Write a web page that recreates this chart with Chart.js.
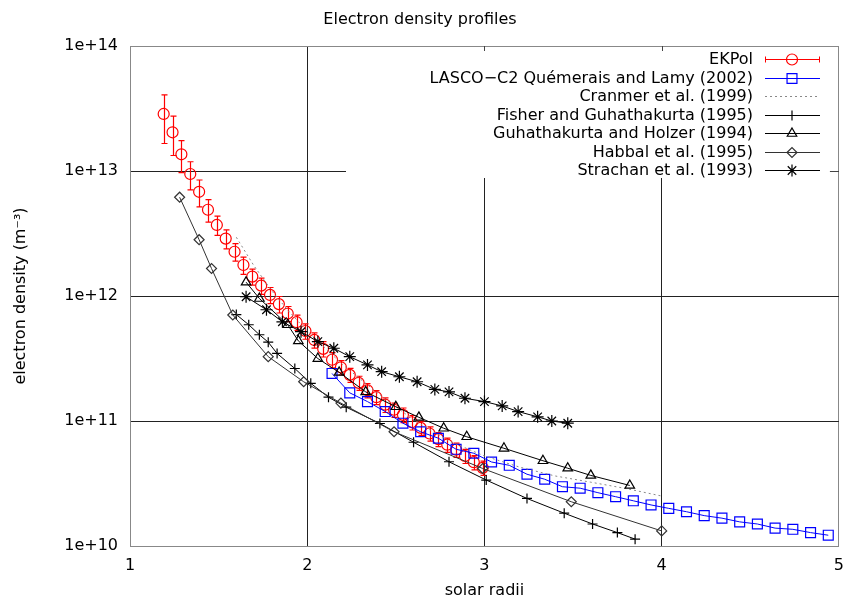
<!DOCTYPE html>
<html>
<head>
<meta charset="utf-8">
<title>Electron density profiles</title>
<script src="https://cdn.jsdelivr.net/npm/chart.js@4.4.1/dist/chart.umd.min.js"></script>
<style>
  html, body { margin: 0; padding: 0; background: #fff; }
  #chart { display: block; }
</style>
</head>
<body>
<canvas id="chart" width="854" height="600"></canvas>
<script>
// values: x = solar radii, y = electron density (m^-3)
const titleText = "Electron density profiles";
const xTicks = [1, 2, 3, 4, 5];
const yTicks = [1e10, 1e11, 1e12, 1e13, 1e14];

const legendLabels = [
  "EKPol",
  "LASCO\u2212C2 Qu\u00e9merais and Lamy (2002)",
  "Cranmer et al. (1999)",
  "Fisher and Guhathakurta (1995)",
  "Guhathakurta and Holzer (1994)",
  "Habbal et al. (1995)",
  "Strachan et al. (1993)"
];

const ekpolX = [1.19, 1.24, 1.29, 1.34, 1.39, 1.44, 1.49, 1.54, 1.59, 1.64, 1.69, 1.74, 1.79,
  1.84, 1.89, 1.94, 1.99, 2.04, 2.09, 2.14, 2.19, 2.24, 2.29, 2.34, 2.39, 2.44, 2.49, 2.54,
  2.59, 2.64, 2.69, 2.74, 2.79, 2.84, 2.89, 2.94, 2.99];
const ekpolY = [2.86e13, 2.04e13, 1.36e13, 9.46e12, 6.82e12, 4.90e12, 3.70e12, 2.88e12, 2.26e12,
  1.77e12, 1.43e12, 1.21e12, 1.02e12, 8.61e11, 7.24e11, 6.17e11, 5.25e11, 4.45e11, 3.78e11,
  3.09e11, 2.69e11, 2.34e11, 2.02e11, 1.76e11, 1.55e11, 1.35e11, 1.23e11, 1.12e11, 9.77e10,
  8.81e10, 7.94e10, 7.16e10, 6.46e10, 5.89e10, 5.25e10, 4.68e10, 4.22e10];
const ekpolErr = [1.2e13, 7.1e12, 3.9e12, 2.4e12, 1.65e12, 1.0e12, 6.5e11, 5.0e11, 3.6e11,
  2.8e11, 2.1e11, 1.8e11, 1.5e11, 1.3e11, 1.0e11, 8.6e10, 7.4e10, 6.2e10, 5.3e10, 4.3e10,
  3.5e10, 3.0e10, 2.6e10, 2.3e10, 2.0e10, 1.8e10, 1.6e10, 1.5e10, 1.3e10, 1.15e10, 1.03e10,
  9.3e9, 8.4e9, 7.7e9, 6.8e9, 6.1e9, 5.5e9];

const lascoX = [2.14, 2.24, 2.34, 2.44, 2.54, 2.64, 2.74, 2.84, 2.94, 3.04, 3.14, 3.24, 3.34,
  3.44, 3.54, 3.64, 3.74, 3.84, 3.94, 4.04, 4.14, 4.24, 4.34, 4.44, 4.54, 4.64, 4.74, 4.84, 4.94];
const lascoY = [2.40e11, 1.68e11, 1.43e11, 1.19e11, 9.6e10, 8.2e10, 7.28e10, 5.94e10, 5.52e10,
  4.70e10, 4.42e10, 3.75e10, 3.42e10, 2.98e10, 2.90e10, 2.67e10, 2.48e10, 2.30e10, 2.13e10,
  2.00e10, 1.88e10, 1.75e10, 1.67e10, 1.56e10, 1.50e10, 1.39e10, 1.36e10, 1.28e10, 1.22e10];

const cranmerX = [1.6, 1.7, 1.8, 1.9, 2.0, 2.2, 2.4, 2.6, 2.8, 3.0, 3.2, 3.4, 3.6, 3.8, 4.0];
const cranmerY = [2.95e12, 1.74e12, 1.10e12, 7.41e11, 5.25e11, 2.82e11, 1.66e11, 1.02e11,
  6.92e10, 5.25e10, 4.27e10, 3.63e10, 3.24e10, 2.88e10, 2.51e10];

const fisherX = [1.60, 1.67, 1.73, 1.78, 1.83, 1.93, 2.02, 2.12, 2.22, 2.41, 2.60, 2.80, 3.01,
  3.24, 3.45, 3.61, 3.75, 3.85];
const fisherY = [7.1e11, 5.89e11, 4.90e11, 4.27e11, 3.47e11, 2.63e11, 2.0e11, 1.55e11, 1.29e11,
  9.55e10, 6.76e10, 4.72e10, 3.37e10, 2.40e10, 1.83e10, 1.50e10, 1.28e10, 1.135e10];

const holzerX = [1.655, 1.73, 1.89, 1.95, 2.06, 2.18, 2.33, 2.50, 2.63, 2.77, 2.90, 3.11, 3.33,
  3.47, 3.60, 3.82];
const holzerY = [1.29e12, 9.55e11, 5.89e11, 4.37e11, 3.16e11, 2.45e11, 1.71e11, 1.30e11, 1.07e11,
  8.75e10, 7.48e10, 6.05e10, 4.81e10, 4.19e10, 3.67e10, 3.05e10];

const habbalX = [1.28, 1.39, 1.46, 1.58, 1.78, 1.98, 2.19, 2.49, 2.99, 3.49, 4.0];
const habbalY = [6.17e12, 2.82e12, 1.66e12, 7.05e11, 3.27e11, 2.06e11, 1.39e11, 8.2e10, 4.17e10,
  2.26e10, 1.32e10];

const strachanX = [1.655, 1.77, 1.86, 1.965, 2.06, 2.15, 2.24, 2.34, 2.42, 2.52, 2.62, 2.72,
  2.80, 2.89, 3.00, 3.10, 3.19, 3.30, 3.38, 3.47];
const strachanY = [9.86e11, 7.76e11, 6.22e11, 5.18e11, 4.31e11, 3.82e11, 3.27e11, 2.81e11,
  2.48e11, 2.26e11, 2.06e11, 1.79e11, 1.71e11, 1.52e11, 1.43e11, 1.32e11, 1.19e11, 1.08e11,
  1.00e11, 9.6e10];

const FONT = "DejaVu Sans";
const RED = "#ff0000";
const BLUE = "#0000ff";
const NONE = "rgba(0,0,0,0)";

function pts(xs, ys) {
  return xs.map((x, i) => ({ x: x, y: ys[i] }));
}

Chart.defaults.font.family = FONT;
Chart.defaults.font.size = 16;
Chart.defaults.color = "#000";

// white box behind the key (gnuplot cuts the grid there), plus the small border tics
const keyBoxPlugin = {
  id: "keyBox",
  beforeDatasetsDraw(chart) {
    const { ctx, chartArea: a, scales } = chart;
    const boxLeft = 346, boxBottom = 178;
    ctx.save();
    ctx.fillStyle = "#fff";
    ctx.fillRect(boxLeft, a.top + 1, a.right - 1 - boxLeft, boxBottom - a.top - 1);
    ctx.strokeStyle = "#444";
    ctx.lineWidth = 1;
    ctx.beginPath();
    xTicks.forEach((v) => {
      const px = Math.round(scales.x.getPixelForValue(v)) + 0.5;
      if (px > boxLeft && px < a.right - 1) {
        ctx.moveTo(px, a.top);
        ctx.lineTo(px, a.top + 5);
      }
    });
    yTicks.forEach((v) => {
      const py = Math.round(scales.y.getPixelForValue(v)) + 0.5;
      if (py > a.top + 1 && py < boxBottom) {
        ctx.moveTo(a.right - 9, py);
        ctx.lineTo(a.right, py);
      }
    });
    ctx.stroke();
    ctx.restore();
  }
};

// vertical error bars for EKPol
const errorBarPlugin = {
  id: "errorBars",
  afterDatasetDraw(chart, args) {
    if (args.index !== 0) return;
    const { ctx, scales: { x, y } } = chart;
    ctx.save();
    ctx.strokeStyle = RED;
    ctx.lineWidth = 1.2;
    ctx.beginPath();
    ekpolX.forEach((v, i) => {
      const px = Math.round(x.getPixelForValue(v)) + 0.5;
      const top = y.getPixelForValue(ekpolY[i] + ekpolErr[i]);
      const bot = y.getPixelForValue(ekpolY[i] - ekpolErr[i]);
      ctx.moveTo(px, top); ctx.lineTo(px, bot);
      ctx.moveTo(px - 3, top); ctx.lineTo(px + 3, top);
      ctx.moveTo(px - 3, bot); ctx.lineTo(px + 3, bot);
    });
    ctx.stroke();
    ctx.restore();
  }
};

// gnuplot-like key: right aligned text, sample line with the marker on the right
const keyPlugin = {
  id: "gnuplotKey",
  afterDraw(chart) {
    const ctx = chart.ctx;
    const textRight = 753, lineL = 765, lineR = 820, mark = 792;
    ctx.save();
    ctx.font = "16px '" + FONT + "'";
    ctx.textAlign = "right";
    ctx.textBaseline = "middle";
    chart.data.datasets.forEach((ds, i) => {
      const y = Math.round(59 + i * 18.5) + 0.5;
      ctx.fillStyle = "#000";
      ctx.fillText(ds.label, textRight, y);
      ctx.strokeStyle = ds.borderColor;
      ctx.lineWidth = 1;
      ctx.setLineDash(ds.borderDash || []);
      ctx.beginPath();
      ctx.moveTo(lineL, y);
      ctx.lineTo(lineR, y);
      if (i === 0) {
        ctx.moveTo(lineL + 0.5, y - 3); ctx.lineTo(lineL + 0.5, y + 3);
        ctx.moveTo(lineR - 0.5, y - 3); ctx.lineTo(lineR - 0.5, y + 3);
      }
      ctx.stroke();
      ctx.setLineDash([]);
      if (ds.pointRadius > 0) {
        ctx.fillStyle = NONE;
        ctx.strokeStyle = ds.pointBorderColor;
        ctx.lineWidth = ds.pointBorderWidth;
        Chart.helpers.drawPoint(ctx, {
          pointStyle: ds.pointStyle, radius: ds.pointRadius, rotation: 0,
          borderWidth: ds.pointBorderWidth
        }, mark, y);
      }
    });
    ctx.restore();
  }
};

function gridColor(ctx) {
  const v = ctx.tick && ctx.tick.value;
  return (v === 1 || v === 5 || v === 1e10 || v === 1e14) ? "#888" : "#222";
}

function series(label, xs, ys, color, style, radius, extra) {
  return Object.assign({
    label: label,
    data: pts(xs, ys),
    showLine: true,
    borderColor: color,
    borderWidth: 1,
    tension: 0,
    pointStyle: style,
    pointRadius: radius,
    pointBorderColor: color,
    pointBackgroundColor: NONE,
    pointBorderWidth: 1.2
  }, extra || {});
}

new Chart(document.getElementById("chart"), {
  type: "scatter",
  data: {
    datasets: [
      series(legendLabels[0], ekpolX, ekpolY, RED, "circle", 5.5, { showLine: false, order: 7 }),
      series(legendLabels[1], lascoX, lascoY, BLUE, "rect", 7, { order: 6 }),
      series(legendLabels[2], cranmerX, cranmerY, "#888", false, 0, { borderDash: [2, 3], order: 5 }),
      series(legendLabels[3], fisherX, fisherY, "#000", "cross", 5, { order: 4 }),
      series(legendLabels[4], holzerX, holzerY, "#000", "triangle", 5.5, { order: 3 }),
      series(legendLabels[5], habbalX, habbalY, "#333", "rectRot", 5, { order: 2 }),
      series(legendLabels[6], strachanX, strachanY, "#000", "star", 6, { order: 1 })
    ]
  },
  options: {
    responsive: false,
    animation: false,
    events: [],
    layout: { padding: { left: 0, right: 14, top: 0, bottom: 0 } },
    plugins: {
      legend: { display: false },
      tooltip: { enabled: false },
      title: {
        display: true,
        text: titleText,
        color: "#000",
        font: { family: FONT, size: 16, weight: "normal" },
        padding: { top: 10, bottom: 16.8 }
      }
    },
    scales: {
      x: {
        type: "linear",
        min: 1,
        max: 5,
        afterFit: (s) => { s.height = 54; },
        afterBuildTicks: (s) => { s.ticks = xTicks.map((v) => ({ value: v })); },
        ticks: { color: "#000", padding: 10, callback: (v) => String(v) },
        grid: { color: gridColor, lineWidth: 1, drawTicks: false },
        border: { color: "#888", width: 1 },
        title: { display: true, text: "solar radii", color: "#000", padding: { top: 0, bottom: 0 } }
      },
      y: {
        type: "logarithmic",
        min: 1e10,
        max: 1e14,
        afterFit: (s) => { s.width = 130; },
        afterBuildTicks: (s) => { s.ticks = yTicks.map((v) => ({ value: v })); },
        ticks: { color: "#000", padding: 12, callback: (v) => "1e+" + Math.round(Math.log10(v)) },
        grid: { color: gridColor, lineWidth: 1, drawTicks: false },
        border: { color: "#888", width: 1 },
        title: { display: true, text: "electron density (m\u207b\u00b3)", color: "#000", padding: { top: 11, bottom: 0 } }
      }
    }
  },
  plugins: [keyBoxPlugin, errorBarPlugin, keyPlugin]
});
</script>
</body>
</html>
